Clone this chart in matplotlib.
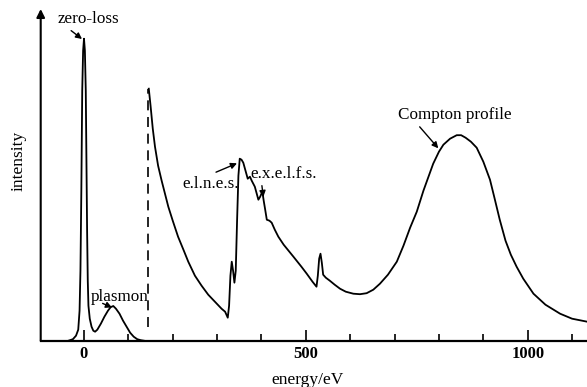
import numpy as np
import matplotlib
matplotlib.use("Agg")
import matplotlib.pyplot as plt

plt.rcParams['font.family'] = ['Liberation Serif', 'DejaVu Serif']

# Low-loss region: zero-loss peak and plasmon (energy eV, intensity)
low_e = [-35, -25, -18, -13, -10, -8, -6, -4, -2, 0, 2, 4, 5.5, 7, 8.5, 10, 13, 17, 21, 25,
         30, 38, 46, 54, 60, 66, 72, 80, 88, 96, 104, 112, 120, 128, 135]
low_i = [0, 1.5, 5, 11, 30, 70, 150, 250, 290, 302, 290, 250, 180, 110, 60, 35, 22, 14, 10, 9,
         11, 17, 24, 30, 33.5, 34.7, 32, 27, 20, 14, 8, 4, 1.5, 0.5, 0]

# High-loss region (after scale change)
high_e = [146, 150, 155, 160, 167, 175, 190, 200, 212, 225, 235, 250, 265, 280, 295, 310, 318, 324,
          327, 330, 333, 336, 339, 342, 345, 348, 351, 355, 359, 364, 369, 374, 378, 385, 393, 397,
          402, 405, 408, 412, 418, 423, 430, 438, 450, 472, 490, 502, 515, 524, 527, 530, 533, 536,
          539, 545, 554, 565, 577, 590, 607, 622, 637, 652, 667, 685, 705, 720, 735, 750, 765, 787,
          800, 810, 825, 840, 850, 860, 872, 885, 900, 915, 925, 937, 950, 962, 975, 990, 1013, 1040,
          1073, 1100, 1134]
high_i = [252, 235, 212, 194, 175, 160, 134, 120, 104, 90, 79, 65, 55, 46, 39, 32, 29, 23,
          35, 65, 79, 70, 58, 70, 120, 165, 182, 181, 178, 170, 162, 164, 160, 154, 141, 144,
          149, 140, 132, 121, 120, 118, 111, 104, 96, 84, 74, 67, 59, 54, 65, 82, 87, 78,
          66, 63, 60, 56, 52, 49, 47, 46.5, 47.5, 51, 57, 66, 79, 95, 113, 129, 150, 177,
          189, 196, 202, 205.5, 205.5, 203, 199, 193, 179, 161, 143, 121, 100, 86, 74, 62, 47, 36,
          27, 22, 19]

# Scale-change marker
dash_e = [143.5, 143.5]
dash_i = [14, 252]

major_ticks = [0, 500, 1000]
minor_ticks = [100, 200, 300, 400, 600, 700, 800, 900, 1100]
tick_labels = ["0", "500", "1000"]

W, H = 587, 387
X0, Y0, SX = 84.0, 340.7, 0.4437   # pixel origin and px per eV


def ex(px):
    return (px - X0) / SX


def iy(py):
    return Y0 - py


fig = plt.figure(figsize=(W / 100, H / 100), dpi=100)
ax = fig.add_axes([40.7 / W, (H - Y0) / H, 1 - 40.7 / W, (Y0 - 9) / H])
ax.set_xlim(ex(40.7), ex(587))
ax.set_ylim(0, Y0 - 9)

ax.plot(low_e, low_i, color='black', lw=1.3, solid_joinstyle='round')
ax.plot(high_e, high_i, color='black', lw=1.3, solid_joinstyle='round')
ax.plot(dash_e, dash_i, color='black', lw=1.2, linestyle=(0, (6, 4)))

for s in ['top', 'right', 'left']:
    ax.spines[s].set_visible(False)
ax.spines['bottom'].set_linewidth(1.6)
ax.annotate('', xy=(0, 1.0), xytext=(0, 0), xycoords='axes fraction',
            arrowprops=dict(arrowstyle='-|>', lw=1.5, color='black', mutation_scale=12,
                            shrinkA=0, shrinkB=0))

ax.set_xticks(major_ticks)
ax.set_xticklabels(tick_labels, fontweight='bold', fontsize=12)
ax.set_xticks(minor_ticks, minor=True)
ax.tick_params(axis='x', which='major', direction='in', length=8, width=1.2, pad=4)
ax.tick_params(axis='x', which='minor', direction='in', length=5, width=1.2)
ax.set_yticks([])

fig.text(308 / W, 1 - 380 / H, 'energy/eV', ha='center', va='center', fontsize=12.5)
fig.text(19 / W, 1 - 161 / H, 'intensity', ha='center', va='center', rotation=90, fontsize=12.5)

FS = 12.3


def ann(txt, tip_px, text_px, relpos, shrinkA=0):
    ax.annotate(txt, xy=(ex(tip_px[0]), iy(tip_px[1])),
                xytext=(ex(text_px[0]), iy(text_px[1])),
                ha='center', va='center', fontsize=FS,
                arrowprops=dict(arrowstyle='-|>', lw=1.0, color='black', mutation_scale=9,
                                shrinkA=shrinkA, shrinkB=0, relpos=relpos))


ann('zero-loss', (82, 39), (88, 19), (0.15, 0.0), 1)
ann('plasmon', (112, 307.5), (120, 297), (0.2, 0.1), 0)
ann('e.l.n.e.s.', (237, 163.3), (211, 183.5), (0.45, 1.0), 1)
ann('e.x.e.l.f.s.', (263.3, 197), (284, 173.5), (0.16, 0.0), 1)
ann('Compton profile', (438.3, 148.3), (455, 115), (0.16, 0.0), 1)

fig.savefig('out.png', dpi=100)
